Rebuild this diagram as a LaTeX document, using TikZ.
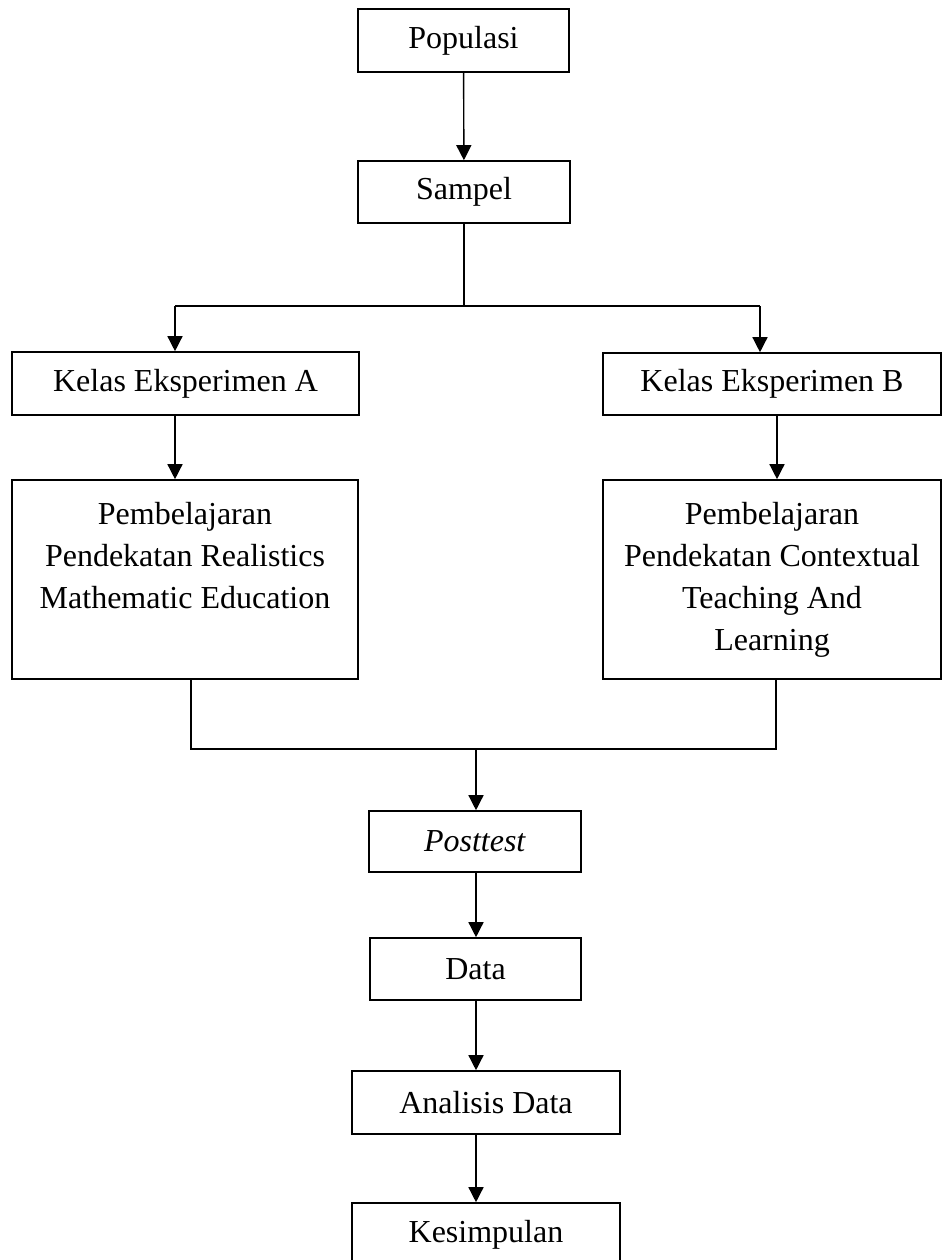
\documentclass[tikz,border=0pt]{standalone}
\usepackage{fontspec}
\setmainfont{Liberation Serif}
\usetikzlibrary{arrows.meta}

\tikzset{
	stepbox/.style={draw, line width=1.6pt, inner sep=0pt, align=center,
		font=\fontsize{32}{42}\selectfont},
	arr/.style={line width=1.4pt, -{Triangle[length=15pt,width=15pt]}},
	link/.style={line width=1.4pt}
}

\begin{document}
\begin{tikzpicture}[x=1pt,y=-1pt]
\useasboundingbox (0,0) rectangle (942,1260);

\node[stepbox, minimum width=211pt, minimum height=63pt] (populasi) at (463.5,40.5) {Populasi};
\node[stepbox, minimum width=212pt, minimum height=62pt] (sampel) at (464,192) {Sampel};

\node[stepbox, minimum width=347pt, minimum height=63pt] (kelasA) at (185.5,383.5) {Kelas Eksperimen A};
\node[stepbox, minimum width=338pt, minimum height=62pt] (kelasB) at (772,384) {Kelas Eksperimen B};

\node[stepbox, minimum width=346pt, minimum height=199pt] (pembA) at (185,579.5)
	{\strut Pembelajaran\\Pendekatan Realistics\\Mathematic Education\\\strut};
\node[stepbox, minimum width=338pt, minimum height=199pt] (pembB) at (772,579.5)
	{\strut Pembelajaran\\Pendekatan Contextual\\Teaching And\\Learning\strut};

\node[stepbox, minimum width=212pt, minimum height=61pt] (posttest) at (475,841.5) {\textit{Posttest}};
\node[stepbox, minimum width=211pt, minimum height=62pt] (data) at (475.5,969) {Data};
\node[stepbox, minimum width=268pt, minimum height=63pt] (analisis) at (486,1102.5) {Analisis Data};
\node[stepbox, minimum width=268pt, minimum height=63pt] (kesimpulan) at (486,1234.5) {Kesimpulan};

% split after sampel
\coordinate (sl) at (175,306);
\coordinate (sr) at (760,306);
\draw[arr] (populasi) -- (sampel);
\draw[link] (sampel.south) -- (sampel.south |- sl);
\draw[link] (sl) -- (sr);
\draw[arr] (sl) -- (sl |- kelasA.north);
\draw[arr] (sr) -- (sr |- kelasB.north);
\draw[arr] (kelasA.south -| sl) -- (pembA.north -| sl);
\coordinate (br) at (777,0);
\draw[arr] (kelasB.south -| br) -- (pembB.north -| br);

% merge into posttest
\coordinate (ml) at (191,749);
\coordinate (mr) at (776,749);
\coordinate (mm) at (476,749);
\draw[link] (pembA.south -| ml) -- (ml) -- (mr) -- (pembB.south -| mr);
\draw[arr] (mm) -- (mm |- posttest.north);

\foreach \s/\t in {posttest/data,data/analisis,analisis/kesimpulan}
	\draw[arr] (\s.south -| mm) -- (\t.north -| mm);
\end{tikzpicture}
\end{document}
